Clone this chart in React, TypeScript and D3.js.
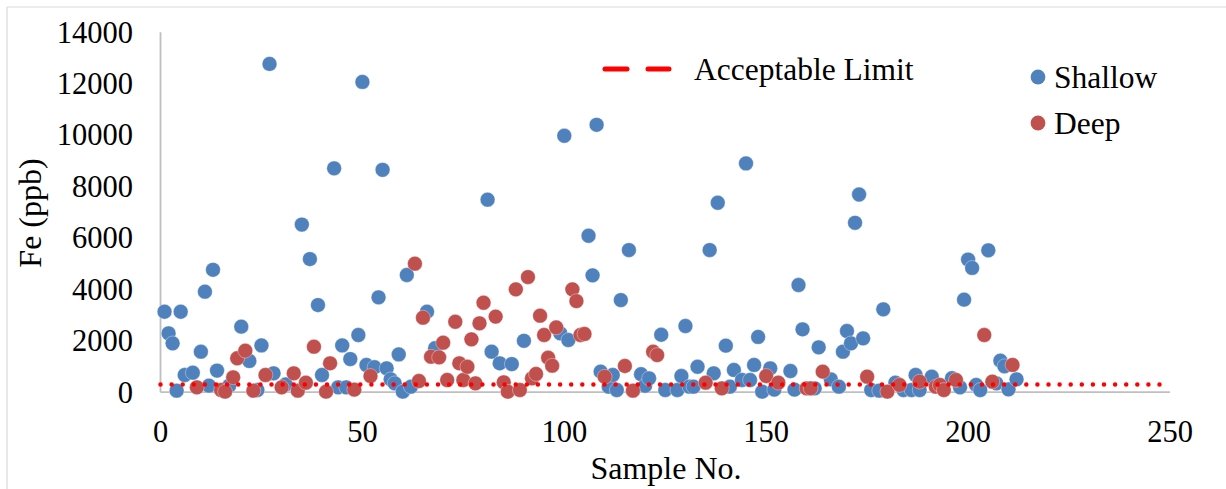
import React from "react";
import * as d3 from "d3";

const shallowSample = [1,2,3,4,5,6,8,10,11,12,13,14,17,20,22,24,25,27,28,31,35,37,39,40,43,44,45,46,47,49,50,51,53,54,55,56,57,58,59,60,61,62,66,68,81,82,84,87,90,99,100,101,106,107,108,109,111,112,113,114,116,119,120,121,124,125,128,129,130,131,132,133,136,137,138,140,141,142,144,145,146,147,148,149,151,152,156,157,158,159,162,163,166,168,169,170,171,172,173,174,176,178,179,182,184,186,187,188,191,196,198,199,200,201,202,203,205,207,208,209,210,212];
const shallowFe = [3130,2290,1900,60,3130,670,760,1575,3910,255,4760,840,250,2550,1215,85,1820,12770,735,300,6520,5180,3390,670,8710,190,1820,190,1290,2225,12070,1060,970,3690,8650,930,500,345,1470,20,4560,215,3130,1710,7490,1575,1125,1095,2000,2290,9975,2030,6085,4545,10400,800,215,670,85,3585,5530,700,250,540,2235,85,85,630,2575,215,215,990,5530,735,7370,1810,215,865,475,8900,475,1060,2150,20,930,100,825,100,4170,2445,150,1745,500,215,1575,2380,1900,6590,7690,2095,85,60,3225,370,85,85,670,85,605,545,190,3600,5160,4835,280,85,5520,345,1225,1010,110,500];

const deepSample = [9,15,16,18,19,21,23,26,30,33,34,36,38,41,42,48,52,63,64,65,67,69,70,71,73,74,75,76,77,78,79,80,83,85,86,88,89,91,92,93,94,95,96,97,98,102,103,104,105,110,115,117,122,123,135,139,150,153,160,161,164,175,180,183,188,192,193,194,197,204,206,211];
const deepFe = [190,85,20,580,1320,1615,60,670,190,735,60,370,1770,20,1125,100,630,5000,435,2900,1380,1355,1925,475,2740,1125,475,990,2055,345,2680,3480,2940,385,20,4000,85,4480,540,710,2975,2225,1340,1030,2520,4000,3545,2225,2265,600,1020,60,1575,1445,370,150,630,370,150,150,800,605,20,280,410,215,280,85,475,2225,410,1060];

const acceptableLimit = 300;
const xTicks = [0, 50, 100, 150, 200, 250];
const yTicks = [0, 2000, 4000, 6000, 8000, 10000, 12000, 14000];
const seriesNames = ["Shallow", "Deep"];
const limitName = "Acceptable Limit";
const xTitle = "Sample No.";
const yTitle = "Fe (ppb)";

const BLUE = "#4F81BD";
const RED = "#C0504D";
const FONT = "Liberation Serif";

export default function App() {
  const W = 1226, H = 489;
  const x = d3.scaleLinear().domain([0, 250]).range([160.5, 1170]);
  const y = d3.scaleLinear().domain([0, 14000]).range([392.2, 32.3]);
  const shallow = shallowSample.map((s, i) => ({ s, v: shallowFe[i] }));
  const deep = deepSample.map((s, i) => ({ s, v: deepFe[i] }));
  const r = 7.4;
  const tick = { fontFamily: FONT, fontSize: "30.5px" } as React.CSSProperties;
  const leg = { fontFamily: FONT, fontSize: "31.5px" } as React.CSSProperties;
  const ttl = { fontFamily: FONT, fontSize: "32px" } as React.CSSProperties;
  return (
    <svg width={W} height={H} style={{ position: "absolute", left: 0, top: 0, background: "#fff" }}>
      <rect x={0} y={0} width={W} height={H} fill="#fff" />
      <line x1={7} y1={7} x2={W} y2={7} stroke="#D9D9D9" strokeWidth={1.2} />
      <line x1={7} y1={7} x2={7} y2={H} stroke="#D9D9D9" strokeWidth={1.2} />
      <line x1={x(0)} y1={y(14000)} x2={x(0)} y2={y(0)} stroke="#BFBFBF" strokeWidth={1.8} />
      <line x1={x(0)} y1={y(0)} x2={x(250)} y2={y(0)} stroke="#BFBFBF" strokeWidth={1.8} />
      {yTicks.map((t) => (
        <text key={"y" + t} x={133} y={y(t)} dy="0.34em" textAnchor="end" style={tick} fill="#000">{t}</text>
      ))}
      {xTicks.map((t) => (
        <text key={"x" + t} x={x(t)} y={431.7} dy="0.34em" textAnchor="middle" style={tick} fill="#000">{t}</text>
      ))}
      <text x={666} y={468} dy="0.34em" textAnchor="middle" style={ttl} fill="#000">{xTitle}</text>
      <text transform={`translate(30,213) rotate(-90)`} dy="0.34em" textAnchor="middle" style={ttl} fill="#000">{yTitle}</text>
      <g>
        {shallow.map((d, i) => (
          <circle key={"s" + i} cx={x(d.s)} cy={y(d.v)} r={r} fill={BLUE} stroke="#fff" strokeOpacity={0.45} strokeWidth={0.8} />
        ))}
      </g>
      <g>
        {deep.map((d, i) => (
          <circle key={"d" + i} cx={x(d.s)} cy={y(d.v)} r={r} fill={RED} stroke="#fff" strokeOpacity={0.45} strokeWidth={0.8} />
        ))}
      </g>
      <line x1={x(0)} y1={y(acceptableLimit)} x2={x(250)} y2={y(acceptableLimit)} stroke="#FF0000" strokeWidth={4.5} strokeDasharray="0 11.1" strokeLinecap="round" />
      <line x1={605} y1={69} x2={669} y2={69} stroke="#FF0000" strokeWidth={5} strokeDasharray="22 21" strokeLinecap="round" />
      <text x={694} y={69} dy="0.34em" style={leg} fill="#000">{limitName}</text>
      <circle cx={1038} cy={77} r={r} fill={BLUE} />
      <text x={1054} y={77} dy="0.34em" style={leg} fill="#000">{seriesNames[0]}</text>
      <circle cx={1038} cy={123} r={r} fill={RED} />
      <text x={1054} y={123} dy="0.34em" style={leg} fill="#000">{seriesNames[1]}</text>
    </svg>
  );
}
